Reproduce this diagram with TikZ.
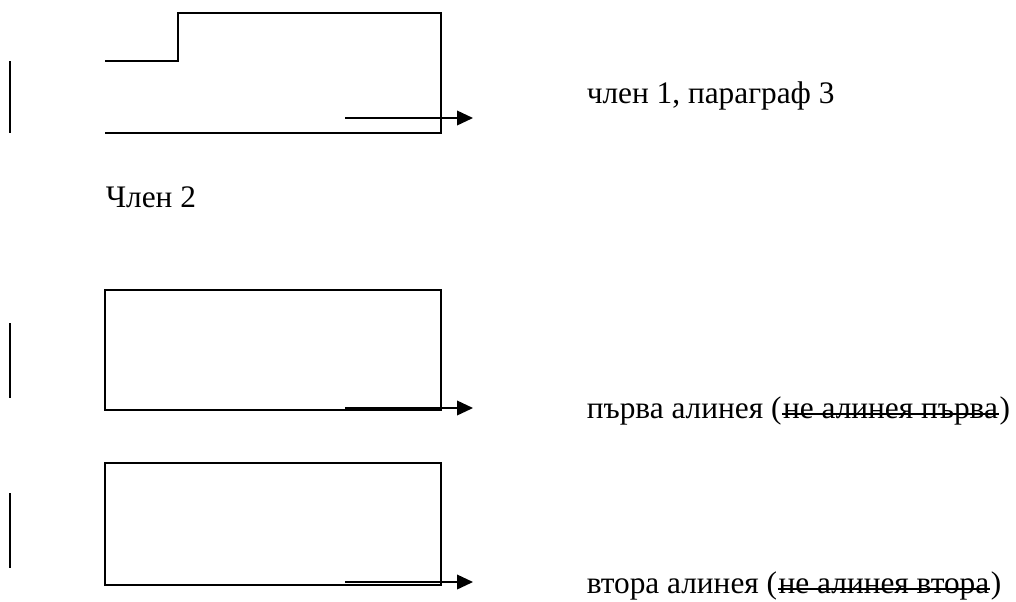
\documentclass[tikz,border=0pt]{standalone}
\usepackage{fontspec}
\setmainfont{Liberation Serif}
\usepackage{tikz}
\usetikzlibrary{arrows.meta}
\tikzset{>/.tip={Triangle[length=12pt,width=11pt]}, line/.style={line width=1.2pt},
  strike/.style={line width=1pt}}

\begin{document}
\begin{tikzpicture}[x=0.75pt, y=-0.75pt, line, every node/.style={font=\fontsize{23.5}{28}\selectfont, inner sep=0pt, anchor=base west}]
\useasboundingbox (0,0) rectangle (1016,601);
% first member
\draw (10,61) -- (10,133);
\draw (105,61) -- (178,61) -- (178,13) -- (441,13) -- (441,133) -- (105,133);
\coordinate (a1) at (345,118);
\coordinate (b1) at (473,118);
\draw[->] (a1) -- (b1);
\node (t1) at (586,103) {член 1, параграф 3};
\node (m2) at (105,207) {Член 2};
% first paragraph
\draw (10,323) -- (10,398);
\draw (105,290) rectangle (441,410);
\coordinate (a2) at (345,408);
\coordinate (b2) at (473,408);
\draw[->] (a2) -- (b2);
\node (t2) at (586,418) {първа алинея (};
\node (s2) at (t2.base east) {не алинея първа};
\node (e2) at (s2.base east) {)};
\draw[strike] ([yshift=0.3em]s2.base west) -- ([yshift=0.3em]s2.base east);
% second paragraph
\draw (10,493) -- (10,568);
\draw (105,463) rectangle (441,585);
\coordinate (a3) at (345,582);
\coordinate (b3) at (473,582);
\draw[->] (a3) -- (b3);
\node (t3) at (586,593) {втора алинея (};
\node (s3) at (t3.base east) {не алинея втора};
\node (e3) at (s3.base east) {)};
\draw[strike] ([yshift=0.3em]s3.base west) -- ([yshift=0.3em]s3.base east);
\end{tikzpicture}
\end{document}
